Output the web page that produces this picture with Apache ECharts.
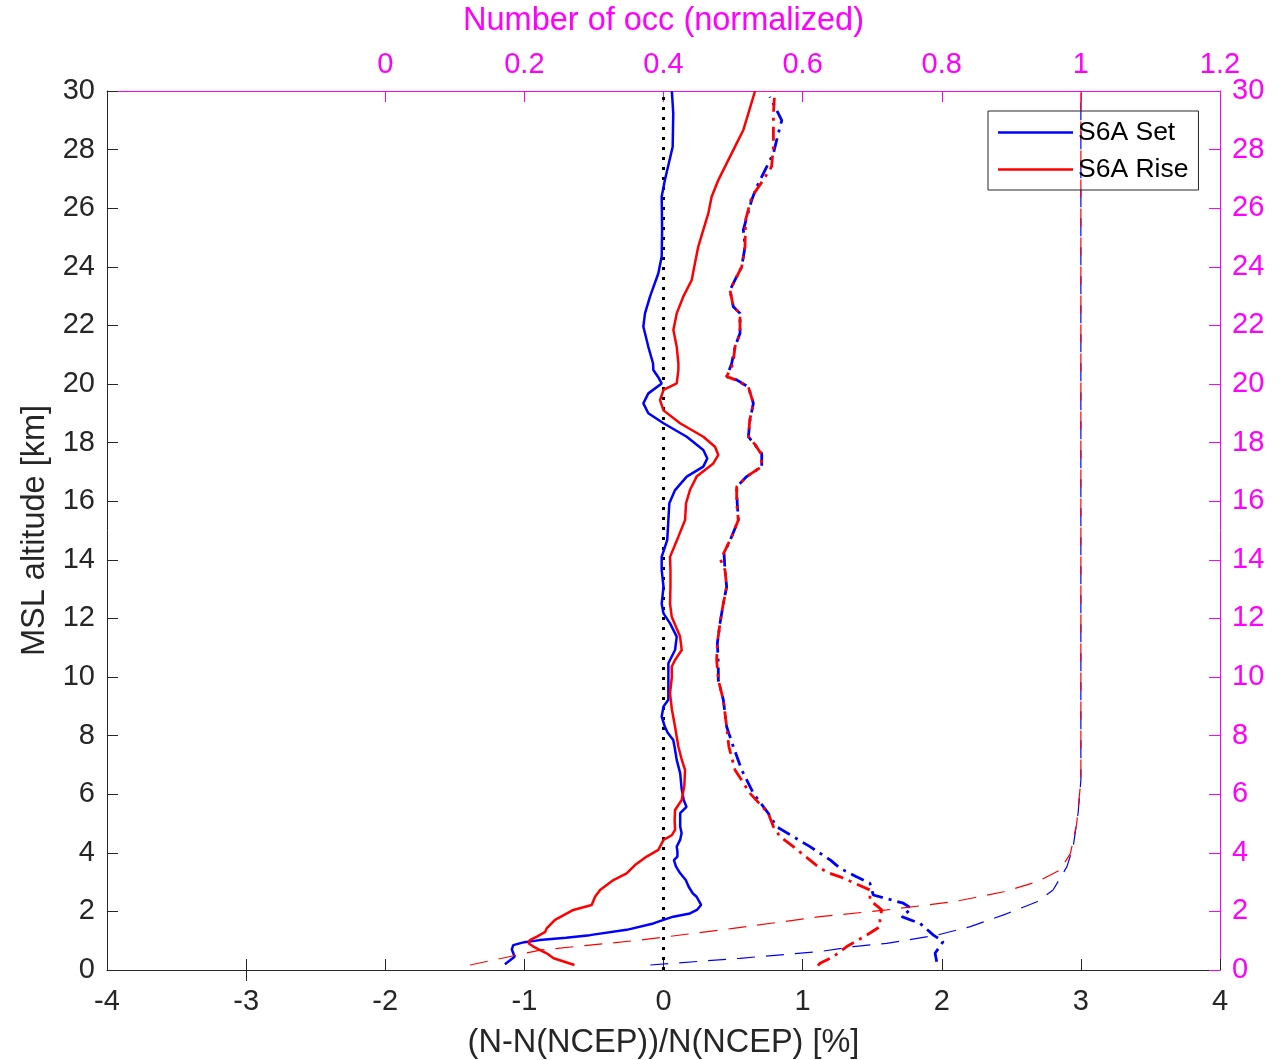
<!DOCTYPE html>
<html>
<head>
<meta charset="utf-8">
<script src="https://cdn.jsdelivr.net/npm/echarts@6/dist/echarts.min.js"></script>
<style>
html,body{margin:0;padding:0;background:#fff;}
#chart{width:1285px;height:1060px;}
</style>
</head>
<body>
<div id="chart"></div>
<script>
// ---- Data (altitude in km) ----
const setBiasAlt = [0.2,0.45,0.7,0.85,0.95,1.02,1.1,1.19,1.37,1.59,1.71,1.82,1.93,2.05,2.22,2.5,2.62,2.85,3.07,3.3,3.53,3.75,3.87,4.05,4.21,4.45,4.67,4.9,5.12,5.35,5.57,5.8,6.2,6.71,7.17,7.6,7.85,8.1,8.3,8.65,8.99,9.22,9.6,10.01,10.47,10.92,11.38,11.83,12.17,12.5,13.08,13.65,14.1,14.68,15.36,15.93,16.38,16.84,17.18,17.46,17.75,18.2,18.66,19.0,19.34,19.68,20.02,20.25,20.48,20.7,21.27,21.96,22.41,22.98,23.78,24.35,25.26,26.4,26.96,28.1,29.24,30];
const setBiasVal = [-1.14,-1.07,-1.09,-1.08,-1.0,-0.89,-0.7,-0.53,-0.265,-0.073,0.0,0.07,0.19,0.24,0.27,0.238,0.21,0.18,0.16,0.12,0.09,0.075,0.1,0.1,0.095,0.12,0.13,0.12,0.12,0.12,0.165,0.145,0.13,0.12,0.095,0.08,0.07,0.03,0.01,-0.013,0.0,0.035,0.035,0.035,0.035,0.083,0.095,0.047,0.0,-0.013,0.0,-0.013,-0.013,0.027,0.035,0.042,0.083,0.167,0.286,0.315,0.286,0.167,0.0,-0.109,-0.145,-0.109,-0.013,-0.04,-0.073,-0.075,-0.109,-0.145,-0.133,-0.097,-0.037,-0.013,-0.01,-0.013,0.01,0.066,0.07,0.06];

const riseBiasAlt = [0.17,0.4,0.57,0.8,0.91,1.02,1.14,1.3,1.42,1.71,2.05,2.22,2.5,2.73,3.07,3.3,3.58,3.87,4.1,4.44,4.6,4.78,5.12,5.46,5.8,6.3,6.83,7.2,7.62,8.3,8.9,9.44,10.0,10.35,10.58,10.92,11.38,12.06,12.5,13.08,13.65,14.1,14.79,15.36,15.93,16.38,16.84,17.29,17.58,17.86,18.2,18.66,19.1,19.45,19.8,20.02,20.48,20.7,21.27,21.84,22.41,22.98,23.55,24.12,24.69,25.26,25.82,26.39,26.96,27.53,28.1,28.67,29.24,30];
const riseBiasVal = [-0.64,-0.79,-0.84,-0.936,-0.97,-0.96,-0.91,-0.85,-0.84,-0.78,-0.648,-0.516,-0.492,-0.456,-0.36,-0.265,-0.205,-0.121,-0.037,0.0,0.06,0.083,0.08,0.083,0.131,0.15,0.155,0.13,0.107,0.083,0.06,0.047,0.06,0.059,0.083,0.131,0.119,0.059,0.047,0.05,0.05,0.047,0.107,0.155,0.162,0.19,0.238,0.358,0.394,0.37,0.286,0.119,0.0,-0.025,0.0,0.095,0.107,0.107,0.095,0.071,0.095,0.142,0.203,0.226,0.25,0.286,0.322,0.346,0.394,0.454,0.514,0.574,0.61,0.658];

const setStdAlt = [0.28,0.57,0.97,1.19,1.59,1.82,2.1,2.28,2.56,2.96,3.2,3.47,3.75,4.21,4.55,4.89,5.35,6.03,6.83,7.62,8.3,9.22,9.9,10.47,11.15,11.83,12.51,13.08,13.65,14.22,14.79,15.36,15.93,16.49,16.84,17.18,17.63,17.92,18.2,18.77,19.34,19.9,20.14,20.25,20.7,21.27,21.73,22.41,22.64,23.2,23.55,24.0,24.69,25.26,25.71,26.28,26.73,27.3,27.87,28.55,29.0,29.8];
const setStdVal = [1.964,1.952,2.01,1.94,1.844,1.712,1.784,1.724,1.508,1.484,1.38,1.27,1.2,1.053,0.933,0.814,0.753,0.646,0.562,0.502,0.454,0.43,0.394,0.394,0.387,0.406,0.43,0.454,0.442,0.435,0.49,0.538,0.53,0.526,0.598,0.706,0.706,0.658,0.61,0.622,0.646,0.61,0.526,0.454,0.49,0.514,0.55,0.55,0.502,0.478,0.514,0.562,0.586,0.574,0.6,0.634,0.67,0.73,0.79,0.825,0.85,0.764];

const riseStdAlt = [0.15,0.23,0.45,0.8,1.19,1.48,1.71,2.05,2.39,2.73,3.18,3.3,3.47,3.75,4.21,4.55,4.89,5.35,6.03,6.83,7.62,8.3,9.22,9.9,10.58,11.15,11.83,12.51,13.08,13.65,14.0,14.79,15.36,15.93,16.49,16.84,17.18,17.63,17.92,18.2,18.77,19.34,19.9,20.14,20.25,20.7,21.27,21.73,22.41,22.64,23.2,23.55,24.0,24.69,25.6,26.39,26.96,27.42,28.1,29.24,30];
const riseStdVal = [1.11,1.125,1.22,1.317,1.46,1.556,1.556,1.568,1.484,1.484,1.27,1.197,1.125,1.053,0.933,0.838,0.79,0.753,0.622,0.514,0.47,0.454,0.43,0.394,0.382,0.387,0.406,0.43,0.454,0.442,0.41,0.49,0.538,0.526,0.526,0.598,0.706,0.7,0.66,0.61,0.62,0.646,0.61,0.52,0.454,0.5,0.514,0.55,0.55,0.502,0.478,0.514,0.562,0.586,0.59,0.634,0.717,0.777,0.79,0.79,0.8];

const setOccAlt = [0.17,0.4,0.63,0.8,0.91,1.19,1.48,1.88,2.33,2.73,3.53,4.21,5.35,6.48,10,20,30];
const setOccVal = [0.381,0.51,0.625,0.673,0.721,0.793,0.841,0.889,0.937,0.96,0.98,0.989,0.996,1.0,1.0,1.0,1.0];

const riseOccAlt = [0.17,0.68,1.02,1.42,1.82,2.05,2.33,2.67,3.01,3.41,3.98,5.0,6.48,10,20,30];
const riseOccVal = [0.122,0.223,0.366,0.5,0.625,0.721,0.817,0.889,0.937,0.97,0.985,0.994,1.0,1.0,1.0,1.0];

const zeroLineVal = [0, 0];
const zeroLineAlt = [0, 30];

const topTickLabels = [0, 0.2, 0.4, 0.6, 0.8, 1, 1.2];
const legendNames = ['S6A Set', 'S6A Rise'];

const zip = (xs, ys) => xs.map((x, i) => [x, ys[i]]);

const FONT = '"Liberation Sans", Arial, Helvetica, sans-serif';
const TXT = '#262626';
const MAG = '#FF00FF';
const TICK_FS = 29;
const TITLE_FS = 32.5;

const chart = echarts.init(document.getElementById('chart'), null, {renderer: 'canvas'});

const lineBase = {type: 'line', showSymbol: false, symbol: 'none', animation: false, silent: true};

chart.setOption({
  backgroundColor: '#fff',
  animation: false,
  textStyle: {fontFamily: FONT},
  grid: {left: 107, right: 65, top: 91, bottom: 90, containLabel: false, outerBoundsMode: 'none'},
  legend: {
    data: legendNames.map(n => ({name: n, icon: 'rect'})),
    orient: 'vertical',
    left: 988, top: 111,
    padding: [8, 10, 7, 10],
    itemGap: 10,
    itemWidth: 75,
    itemHeight: 2.5,
    itemTextGap: 9,
    borderColor: TXT,
    borderWidth: 1,
    backgroundColor: 'transparent',
    textStyle: {fontSize: 26.5, color: '#000', fontFamily: FONT},
    selectedMode: false
  },
  xAxis: [
    {
      type: 'value', position: 'bottom', min: -4, max: 4, interval: 1,
      name: '(N-N(NCEP))/N(NCEP) [%]', nameLocation: 'middle', nameGap: 57,
      nameTextStyle: {fontSize: TITLE_FS, color: TXT, fontFamily: FONT},
      axisLine: {show: true, onZero: false, lineStyle: {color: TXT, width: 1}},
      axisTick: {show: true, inside: true, length: 11, lineStyle: {color: TXT}},
      axisLabel: {fontSize: TICK_FS, color: TXT, margin: 17, fontFamily: FONT},
      splitLine: {show: false}
    },
    {
      type: 'value', position: 'top', min: -0.4, max: 1.2, interval: 0.2,
      name: 'Number of occ (normalized)', nameLocation: 'middle', nameGap: 53,
      nameTextStyle: {fontSize: TITLE_FS, color: MAG, fontFamily: FONT},
      axisLine: {show: true, onZero: false, lineStyle: {color: MAG, width: 1}},
      axisTick: {show: true, inside: true, length: 11, lineStyle: {color: MAG}, customValues: topTickLabels},
      axisLabel: {fontSize: TICK_FS, color: MAG, margin: 12, fontFamily: FONT, customValues: topTickLabels,
        formatter: v => (Math.round(v * 10) / 10).toString()},
      splitLine: {show: false}
    },
    {
      type: 'value', position: 'top', min: -4, max: 4, interval: 1,
      axisLine: {show: false},
      axisTick: {show: true, inside: true, length: 11, lineStyle: {color: TXT}, customValues: [-3]},
      axisLabel: {show: false},
      splitLine: {show: false}
    }
  ],
  yAxis: [
    {
      type: 'value', position: 'left', min: 0, max: 30, interval: 2,
      name: 'MSL altitude [km]', nameLocation: 'middle', nameGap: 55, nameRotate: 90,
      nameTextStyle: {fontSize: TITLE_FS, color: TXT, fontFamily: FONT},
      axisLine: {show: true, onZero: false, lineStyle: {color: TXT, width: 1}},
      axisTick: {show: true, inside: true, length: 11, lineStyle: {color: TXT}},
      axisLabel: {fontSize: TICK_FS, color: TXT, margin: 12, fontFamily: FONT},
      splitLine: {show: false}
    },
    {
      type: 'value', position: 'right', min: 0, max: 30, interval: 2,
      axisLine: {show: true, onZero: false, lineStyle: {color: MAG, width: 1}},
      axisTick: {show: true, inside: true, length: 11, lineStyle: {color: MAG}},
      axisLabel: {fontSize: TICK_FS, color: MAG, margin: 12, fontFamily: FONT},
      splitLine: {show: false}
    }
  ],
  series: [
    Object.assign({}, lineBase, {
      name: 'zero', xAxisIndex: 0, yAxisIndex: 0, data: zip(zeroLineVal, zeroLineAlt),
      lineStyle: {color: '#000', width: 3, type: [3, 7]}
    }),
    Object.assign({}, lineBase, {
      name: 'S6A Set', xAxisIndex: 0, yAxisIndex: 0, data: zip(setBiasVal, setBiasAlt),
      lineStyle: {color: '#0000FF', width: 2.5}, itemStyle: {color: '#0000FF'}
    }),
    Object.assign({}, lineBase, {
      name: 'S6A Rise', xAxisIndex: 0, yAxisIndex: 0, data: zip(riseBiasVal, riseBiasAlt),
      lineStyle: {color: '#FF0000', width: 2.5}, itemStyle: {color: '#FF0000'}
    }),
    Object.assign({}, lineBase, {
      name: 'S6A Set std', xAxisIndex: 0, yAxisIndex: 0, data: zip(setStdVal, setStdAlt),
      lineStyle: {color: '#0000FF', width: 2.8, type: [14, 6, 3, 6]}
    }),
    Object.assign({}, lineBase, {
      name: 'S6A Rise std', xAxisIndex: 0, yAxisIndex: 0, data: zip(riseStdVal, riseStdAlt),
      lineStyle: {color: '#FF0000', width: 2.8, type: [14, 6, 3, 6]}
    }),
    Object.assign({}, lineBase, {
      name: 'S6A Set occ', xAxisIndex: 1, yAxisIndex: 0, data: zip(setOccVal, setOccAlt),
      lineStyle: {color: '#0000FF', width: 1.2, type: [18, 11]}
    }),
    Object.assign({}, lineBase, {
      name: 'S6A Rise occ', xAxisIndex: 1, yAxisIndex: 0, data: zip(riseOccVal, riseOccAlt),
      lineStyle: {color: '#FF0000', width: 1.2, type: [18, 11]}
    })
  ]
});
</script>
</body>
</html>
